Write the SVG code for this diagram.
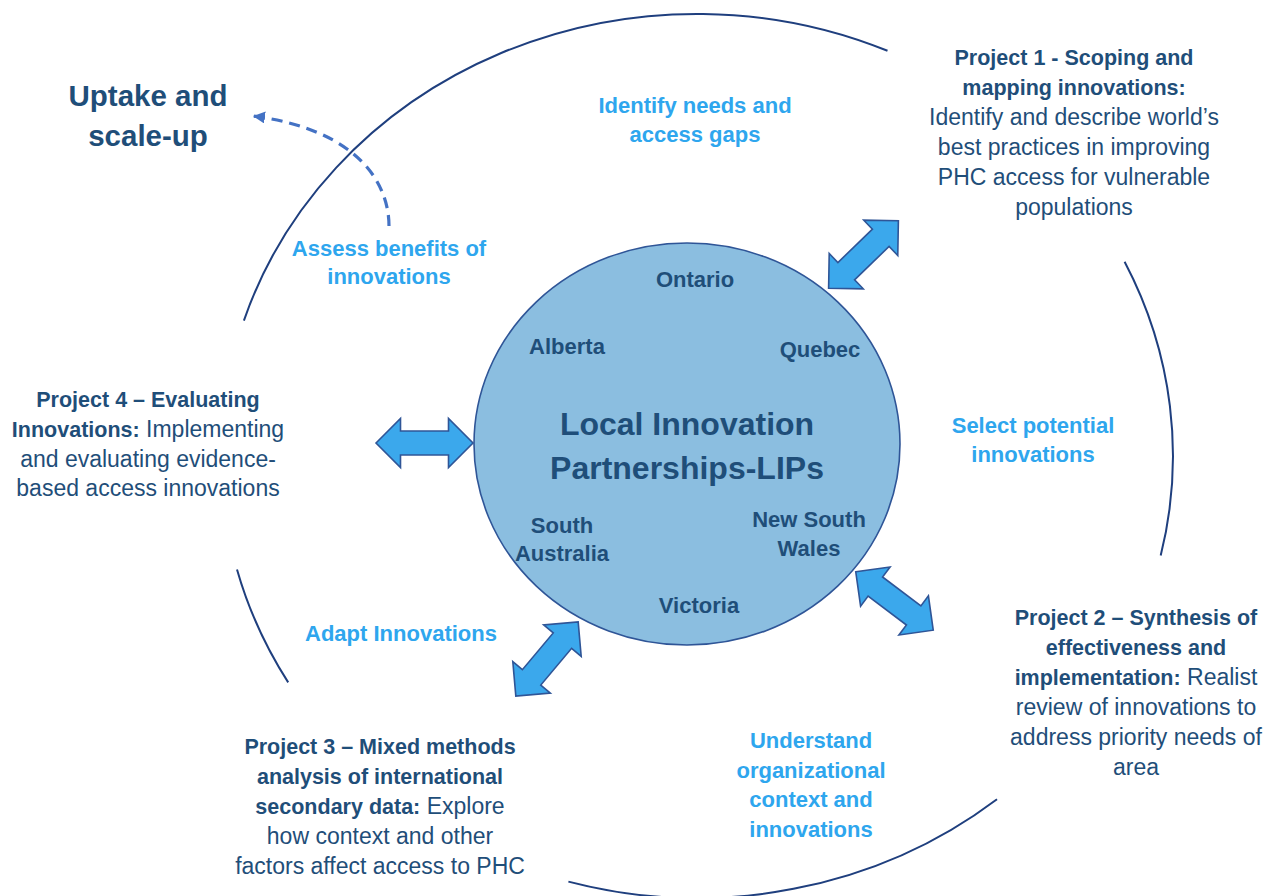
<svg xmlns="http://www.w3.org/2000/svg" width="1266" height="896" viewBox="0 0 1266 896">
<style>
  text { font-family: "Liberation Sans", Arial, sans-serif; text-anchor: middle; }
  .navy { fill: #1F4E79; }
  .lb { fill: #2EA6EE; font-weight: bold; font-size: 22px; }
  .proj { font-size: 23px; fill: #1F4E79; }
  .b { font-weight: bold; font-size: 21.5px; }
  .state { fill: #1F4E79; font-weight: bold; font-size: 22px; }
  .arc { fill: none; stroke: #1F3F7E; stroke-width: 2; }
  .dbl { fill: #3BA8EC; stroke: #2F5597; stroke-width: 1.6; stroke-linejoin: miter; }
</style>
<defs>
  <polygon id="dblarrow" points="-48.5,0 -24,-24.5 -24,-12 24,-12 24,-24.5 48.5,0 24,24.5 24,12 -24,12 -24,24.5"/>
  <marker id="ah" markerWidth="14" markerHeight="14" refX="12" refY="6" orient="auto" markerUnits="userSpaceOnUse">
    <path d="M0,0 L12,6 L0,12 Z" fill="#4472C4"/>
  </marker>
</defs>
<rect width="1266" height="896" fill="#ffffff"/>

<g id="cycle">
  <path class="arc" d="M887.5,50.8 A476,442 0 0 0 243.9,320.6"/>
  <path class="arc" d="M237,569.5 A476,442 0 0 0 288.2,682.4"/>
  <path class="arc" d="M568.4,881.6 A476,442 0 0 0 997,799.2"/>
  <path class="arc" d="M1124.6,261.8 A476,442 0 0 1 1160.7,555.6"/>
</g>

<g id="connectors">
  <use href="#dblarrow" class="dbl" transform="translate(424.5,443)"/>
  <use href="#dblarrow" class="dbl" transform="translate(863.5,254.5) rotate(-44)"/>
  <use href="#dblarrow" class="dbl" transform="translate(894.5,601) rotate(37)"/>
  <use href="#dblarrow" class="dbl" transform="translate(547,659) rotate(130)"/>
  <path d="M389,226 C389,185 360,130 253,116" fill="none" stroke="#4472C4" stroke-width="3.2" stroke-dasharray="11 7" marker-end="url(#ah)"/>
</g>

<g id="lips">
  <ellipse cx="687" cy="444" rx="213" ry="201" fill="#8BBEE0" stroke="#2F5597" stroke-width="1.6"/>
  <text class="navy" font-weight="bold" font-size="32" x="687" y="435">Local Innovation</text>
  <text class="navy" font-weight="bold" font-size="32" x="687" y="479">Partnerships-LIPs</text>
  <text class="state" x="695" y="287">Ontario</text>
  <text class="state" x="567" y="354">Alberta</text>
  <text class="state" x="820" y="357">Quebec</text>
  <text class="state" x="562" y="533">South</text>
  <text class="state" x="562" y="561">Australia</text>
  <text class="state" x="809" y="527">New South</text>
  <text class="state" x="809" y="556">Wales</text>
  <text class="state" x="699" y="613">Victoria</text>
</g>

<g id="uptake">
  <text class="navy" font-weight="bold" font-size="29.5" x="148" y="106">Uptake and</text>
  <text class="navy" font-weight="bold" font-size="29.5" x="148" y="146">scale-up</text>
</g>

<g id="step-identify">
  <text class="lb" x="695" y="113">Identify needs and</text>
  <text class="lb" x="695" y="142">access gaps</text>
</g>
<g id="step-assess">
  <text class="lb" x="389" y="256">Assess benefits of</text>
  <text class="lb" x="389" y="284">innovations</text>
</g>
<g id="step-select">
  <text class="lb" x="1033" y="433">Select potential</text>
  <text class="lb" x="1033" y="462">innovations</text>
</g>
<g id="step-adapt">
  <text class="lb" x="401" y="641">Adapt Innovations</text>
</g>
<g id="step-understand">
  <text class="lb" x="811" y="748">Understand</text>
  <text class="lb" x="811" y="778">organizational</text>
  <text class="lb" x="811" y="807">context and</text>
  <text class="lb" x="811" y="837">innovations</text>
</g>

<g id="project1">
  <text class="proj b" x="1074" y="65">Project 1 - Scoping and</text>
  <text class="proj b" x="1074" y="95">mapping innovations:</text>
  <text class="proj" x="1074" y="125">Identify and describe world’s</text>
  <text class="proj" x="1074" y="155">best practices in improving</text>
  <text class="proj" x="1074" y="185">PHC access for vulnerable</text>
  <text class="proj" x="1074" y="215">populations</text>
</g>

<g id="project2">
  <text class="proj b" x="1136" y="625">Project 2 – Synthesis of</text>
  <text class="proj b" x="1136" y="655">effectiveness and</text>
  <text class="proj" x="1136" y="685"><tspan class="b">implementation:</tspan> Realist</text>
  <text class="proj" x="1136" y="715">review of innovations to</text>
  <text class="proj" x="1136" y="745">address priority needs of</text>
  <text class="proj" x="1136" y="775">area</text>
</g>

<g id="project3">
  <text class="proj b" x="380" y="754">Project 3 – Mixed methods</text>
  <text class="proj b" x="380" y="784">analysis of international</text>
  <text class="proj" x="380" y="814"><tspan class="b">secondary data:</tspan> Explore</text>
  <text class="proj" x="380" y="844">how context and other</text>
  <text class="proj" x="380" y="874">factors affect access to PHC</text>
</g>

<g id="project4">
  <text class="proj b" x="148" y="407">Project 4 – Evaluating</text>
  <text class="proj" x="148" y="437"><tspan class="b">Innovations:</tspan> Implementing</text>
  <text class="proj" x="148" y="467">and evaluating evidence-</text>
  <text class="proj" x="148" y="496">based access innovations</text>
</g>
</svg>
